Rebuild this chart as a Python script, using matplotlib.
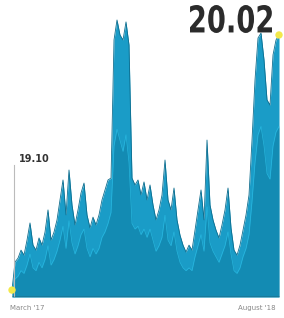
import matplotlib
matplotlib.use("Agg")
import matplotlib.pyplot as plt
import numpy as np
from matplotlib.textpath import TextPath
from matplotlib.patches import PathPatch
from matplotlib.font_manager import FontProperties
from matplotlib.transforms import Affine2D

# price series, March '17 -> August '18
values = [19.100, 19.201, 19.215, 19.244, 19.226, 19.280, 19.342, 19.262, 19.244, 19.288,
          19.262, 19.309, 19.389, 19.280, 19.309, 19.353, 19.425, 19.497, 19.371, 19.533,
          19.407, 19.335, 19.389, 19.450, 19.486, 19.371, 19.324, 19.363, 19.335, 19.371,
          19.425, 19.461, 19.497, 19.504, 20.002, 20.074, 20.020, 20.002, 20.067, 19.984,
          19.504, 19.479, 19.497, 19.443, 19.490, 19.425, 19.479, 19.407, 19.353, 19.389,
          19.443, 19.569, 19.425, 19.389, 19.468, 19.353, 19.298, 19.262, 19.237, 19.262,
          19.244, 19.316, 19.389, 19.461, 19.353, 19.641, 19.407, 19.353, 19.316, 19.288,
          19.335, 19.389, 19.468, 19.324, 19.244, 19.226, 19.262, 19.316, 19.371, 19.443,
          19.641, 19.858, 20.009, 20.027, 19.930, 19.786, 19.767, 19.948, 20.002, 20.020]
# darker inner layer giving the facetted look
inner = [19.090, 19.140, 19.150, 19.170, 19.160, 19.190, 19.230, 19.180, 19.170, 19.200,
         19.180, 19.210, 19.260, 19.190, 19.210, 19.240, 19.280, 19.330, 19.250, 19.350,
         19.270, 19.230, 19.260, 19.300, 19.320, 19.250, 19.220, 19.250, 19.230, 19.250,
         19.290, 19.310, 19.340, 19.380, 19.620, 19.680, 19.640, 19.600, 19.660, 19.560,
         19.340, 19.320, 19.330, 19.300, 19.320, 19.290, 19.320, 19.280, 19.240, 19.260,
         19.290, 19.370, 19.280, 19.260, 19.310, 19.240, 19.200, 19.180, 19.170, 19.180,
         19.170, 19.220, 19.260, 19.300, 19.240, 19.400, 19.270, 19.240, 19.220, 19.200,
         19.230, 19.260, 19.310, 19.230, 19.170, 19.160, 19.180, 19.220, 19.250, 19.300,
         19.420, 19.560, 19.660, 19.690, 19.620, 19.520, 19.500, 19.620, 19.670, 19.690]
start_label = "19.10"
end_label = "20.02"
date_labels = ["March '17", "August '18"]

x = np.arange(len(values))

fig = plt.figure(figsize=(2.84, 3.18), dpi=100)
ax = fig.add_axes([12 / 284, 21 / 318, 268 / 284, 282 / 318])

ymin = 19.075
ax.fill_between(x, ymin, values, color="#1a9cc7", lw=0)
ax.plot(x, values, color="#0d6d8e", lw=0.6)
ax.fill_between(x, ymin, inner, color="#0f7ea3", alpha=0.55, lw=0)
ax.plot(x, inner, color="#2cc0e8", lw=0.5, alpha=0.8)

# start marker line and value
ax.plot([0.6, 0.6], [ymin, 19.55], color="#bbbbbb", lw=0.8)
ax.text(2.3, 19.555, start_label, fontsize=7, fontweight="bold", color="#333333",
        va="bottom", ha="left")

# yellow end dots
ax.scatter([x[0], x[-1]], [values[0], values[-1]], s=28, color="#f3e84a",
           zorder=5, edgecolor="none", clip_on=False)

ax.axhline(ymin, color="#333333", lw=1.0)

ax.set_xlim(0, 89.33)
ax.set_ylim(ymin, 20.092)
ax.axis("off")

# big condensed end value (DejaVu squeezed horizontally)
tp = TextPath((0, 0), end_label, size=37,
              prop=FontProperties(family="DejaVu Sans", weight="bold"))
ext = tp.get_extents()
sx = 82 / ext.width
tr = Affine2D().translate(-ext.x1, -ext.y1).scale(sx, 1).translate(272, 318 - 5)
fig.add_artist(PathPatch(tp, transform=tr, color="#2b2b2b", lw=0))

fig.text(10 / 284, 1 - 308 / 318, date_labels[0], fontsize=5, color="#888888",
         va="center", ha="left")
fig.text(276 / 284, 1 - 308 / 318, date_labels[1], fontsize=5, color="#888888",
         va="center", ha="right")

fig.savefig("out.png", dpi=100)
